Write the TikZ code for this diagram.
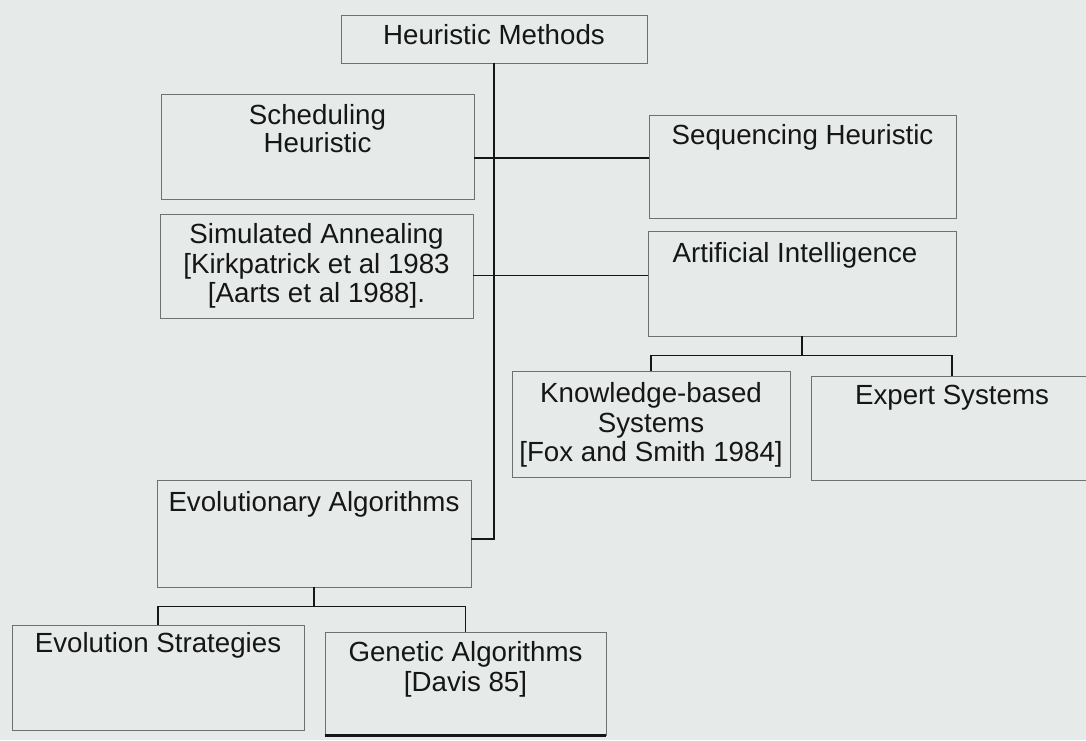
\documentclass[tikz,border=0pt]{standalone}
\usepackage{fontspec}
\setmainfont{Liberation Sans}
\usetikzlibrary{calc}

\definecolor{paper}{RGB}{230,235,233}
\definecolor{boxline}{RGB}{110,113,112}
\definecolor{ink}{RGB}{22,22,22}

\tikzset{
  box/.style={rectangle, draw=boxline, line width=0.9pt, inner sep=0pt},
  boxtext/.style={inner sep=0pt, align=center, text=ink, anchor=north,
    font=\fontsize{27.7}{29.5}\selectfont},
  conn/.style={draw=ink, line width=1.5pt},
}

\begin{document}
\begin{tikzpicture}[x=1pt,y=-1pt]
  % page
  \fill[paper] (0,0) rectangle (1086,740);
  \useasboundingbox (0,0) rectangle (1086,740);
  \clip (0,0) rectangle (1086,740);

  % boxes
  \node[box, minimum width=306pt, minimum height=48pt]  (hm)  at (494,39)      {};
  \node[box, minimum width=313pt, minimum height=105pt] (sh)  at (317.5,147)   {};
  \node[box, minimum width=307pt, minimum height=103pt] (seq) at (802.5,166.5) {};
  \node[box, minimum width=313pt, minimum height=104pt] (sa)  at (316.5,266.5) {};
  \node[box, minimum width=308pt, minimum height=105pt] (ai)  at (802,283.5)   {};
  \node[box, minimum width=278pt, minimum height=106pt] (kb)  at (651,424)     {};
  \node[box, minimum width=282pt, minimum height=104pt] (es)  at (952,428)     {};
  \node[box, minimum width=314pt, minimum height=107pt] (ea)  at (314,533.5)   {};
  \node[box, minimum width=292pt, minimum height=105pt] (evs) at (158,677.5)   {};
  \node[box, minimum width=281pt, minimum height=103pt] (ga)  at (465.5,683.5) {};

  % box texts
  \node[boxtext] (hmT)  at ([yshift=-10.1pt]hm.north)  {Heuristic Methods};
  \node[boxtext, font=\fontsize{27.7}{27.5}\selectfont] (shT) at ([yshift=-10.6pt]sh.north) {Scheduling\\Heuristic};
  \node[boxtext] (seqT) at ([yshift=-10.1pt]seq.north) {Sequencing Heuristic};
  \node[boxtext] (saT)  at ([yshift=-9.6pt]sa.north)   {Simulated Annealing\\{[}Kirkpatrick et al 1983\\{[}Aarts et al 1988{]}.};
  \node[boxtext] (aiT)  at ([xshift=-7pt,yshift=-12.1pt]ai.north) {Artificial Intelligence};
  \node[boxtext] (kbT)  at ([yshift=-12.1pt]kb.north)  {Knowledge-based\\Systems\\{[}Fox and Smith 1984{]}};
  \node[boxtext] (esT)  at ([yshift=-9.1pt]es.north)   {Expert Systems};
  \node[boxtext] (eaT)  at ([yshift=-12.1pt]ea.north)  {Evolutionary Algorithms};
  \node[boxtext] (evsT) at ([yshift=-8.1pt]evs.north)  {Evolution Strategies};
  \node[boxtext] (gaT)  at ([yshift=-10.1pt]ga.north)  {Genetic Algorithms\\{[}Davis 85{]}};

  % main trunk down to the evolutionary branch
  \draw[conn] (hm.south) |- ([yshift=-5.5pt]ea.east);

  % side links from the left column to the right column
  \coordinate (shC) at ([yshift=-11pt]sh.east);
  \draw[conn] (shC) -- (shC -| seq.west);
  \coordinate (saC) at ([yshift=-9pt]sa.east);
  \draw[conn] (saC) -- (saC -| ai.west);

  % artificial intelligence split
  \coordinate (aiJ) at ([yshift=-19pt]ai.south);
  \draw[conn] (ai.south) -- (aiJ);
  \draw[conn] (kb.north) |- (aiJ) -| (es.north);

  % evolutionary algorithms split
  \coordinate (eaJ) at ([yshift=-19pt]ea.south);
  \draw[conn] (ea.south) -- (eaJ);
  \draw[conn] (evs.north) |- (eaJ) -| (ga.north);

  % heavy lower edge of the genetic algorithms box
  \draw[ink, line width=2.5pt] (ga.south west) -- (ga.south east);
\end{tikzpicture}
\end{document}
